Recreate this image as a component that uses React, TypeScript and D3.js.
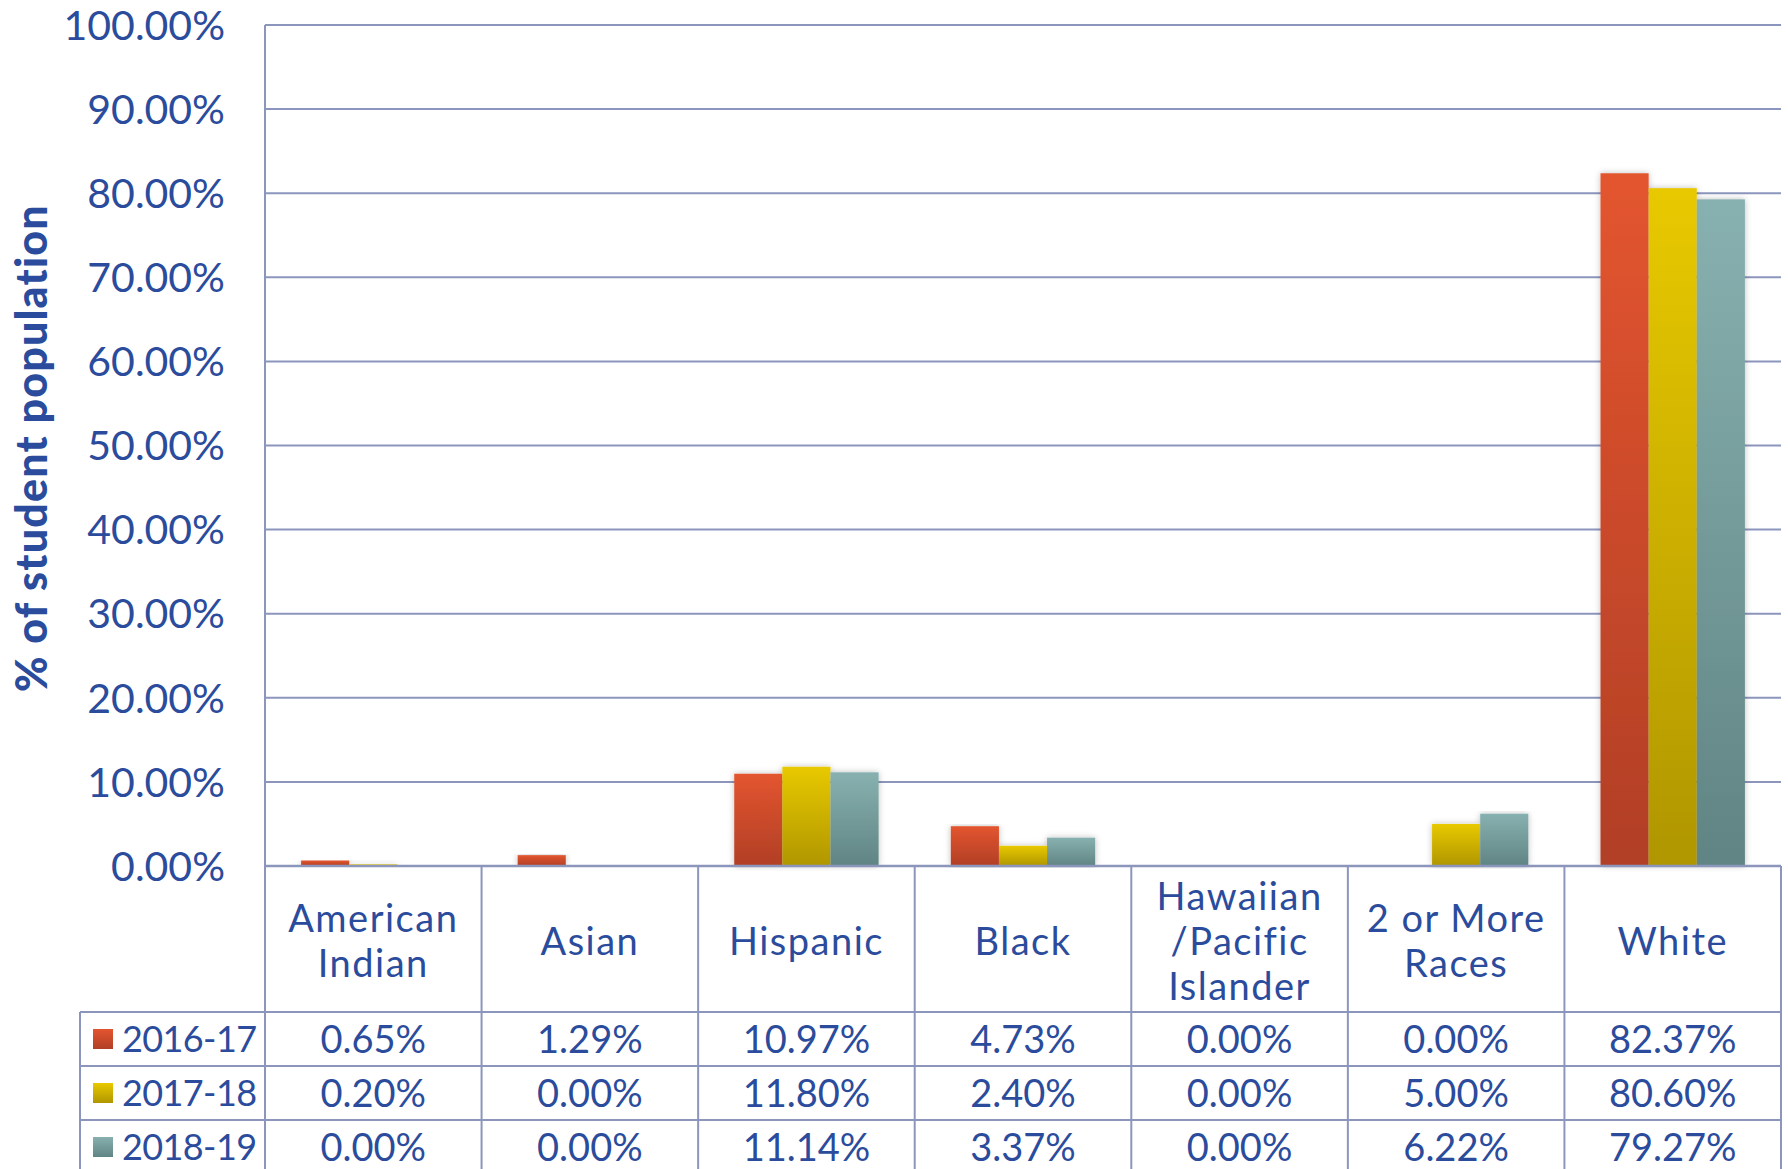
import React from 'react'
import * as d3 from 'd3'

const WIDTH = 1788
const HEIGHT = 1169
const PLOT = { left: 265, right: 1781, top: 25, bottom: 866 }
const TABLE = { left: 80, headerBottom: 1012, rowHeight: 54 }

const FONT = 'Lato, "Open Sans", sans-serif'
const TEXT = '#2b4c9c'
const LINE = '#8c96bd'

// categories and their wrapped header lines
const categories = ['American Indian', 'Asian', 'Hispanic', 'Black', 'Hawaiian /Pacific Islander', '2 or More Races', 'White']
const categoryLines = [['American', 'Indian'], ['Asian'], ['Hispanic'], ['Black'], ['Hawaiian', '/Pacific', 'Islander'], ['2 or More', 'Races'], ['White']]

const years = ['2016-17', '2017-18', '2018-19']
const values2016 = [0.65, 1.29, 10.97, 4.73, 0.0, 0.0, 82.37]
const values2017 = [0.2, 0.0, 11.8, 2.4, 0.0, 5.0, 80.6]
const values2018 = [0.0, 0.0, 11.14, 3.37, 0.0, 6.22, 79.27]
const seriesValues = [values2016, values2017, values2018]

const yTicks = [0, 10, 20, 30, 40, 50, 60, 70, 80, 90, 100]

const colors = [
  { top: '#e3552f', bottom: '#b13f26' },
  { top: '#e8c900', bottom: '#b09600' },
  { top: '#87b1b0', bottom: '#608483' },
]

export default function App() {
  const x = d3.scaleBand<string>().domain(categories).range([PLOT.left, PLOT.right]).paddingInner(0).paddingOuter(0)
  const inner = d3.scaleBand<string>().domain(years).range([0, x.bandwidth()]).paddingInner(0).paddingOuter(0.75)
  const y = d3.scaleLinear().domain([0, 100]).range([PLOT.bottom, PLOT.top])

  const rowTop = (i: number) => TABLE.headerBottom + i * TABLE.rowHeight
  const tableBottom = rowTop(years.length)
  const fmt = (v: number) => `${v.toFixed(2)}%`

  return (
    <div style={{ position: 'absolute', left: 0, top: 0 }}>
      <svg width={WIDTH} height={HEIGHT} style={{ display: 'block', background: '#fff' }}>
        <defs>
          {colors.map((c, i) => (
            <linearGradient key={i} id={`grad${i}`} x1="0" y1="0" x2="0" y2="1">
              <stop offset="0%" stopColor={c.top} />
              <stop offset="100%" stopColor={c.bottom} />
            </linearGradient>
          ))}
          <filter id="shadow" x="-10%" y="-5%" width="120%" height="110%">
            <feDropShadow dx="0" dy="0" stdDeviation="3" floodColor="#000" floodOpacity="0.25" />
          </filter>
        </defs>

        {/* gridlines */}
        {yTicks.slice(1).map((t) => (
          <line key={t} x1={PLOT.left} x2={PLOT.right} y1={y(t)} y2={y(t)} stroke={LINE} strokeWidth={2} />
        ))}

        {/* y tick labels */}
        {yTicks.map((t) => (
          <text key={t} x={225} y={y(t)} dy="0.36em" textAnchor="end" fontFamily={FONT} fontSize={41} fill={TEXT}>
            {fmt(t)}
          </text>
        ))}

        {/* bars */}
        {categories.map((cat, ci) => (
          <g key={cat} filter="url(#shadow)">
            {years.map((yr, si) => {
              const v = seriesValues[si][ci]
              if (!v) return null
              return (
                <rect
                  key={yr}
                  x={(x(cat) ?? 0) + (inner(yr) ?? 0)}
                  y={y(v)}
                  width={inner.bandwidth()}
                  height={y(0) - y(v)}
                  fill={`url(#grad${si})`}
                />
              )
            })}
          </g>
        ))}

        {/* table lines */}
        <line x1={PLOT.left} x2={PLOT.left} y1={PLOT.top} y2={tableBottom} stroke={LINE} strokeWidth={2} />
        <line x1={PLOT.left} x2={PLOT.right} y1={PLOT.bottom} y2={PLOT.bottom} stroke={LINE} strokeWidth={2.5} />
        {categories.map((cat) => (
          <line
            key={cat}
            x1={(x(cat) ?? 0) + x.bandwidth()}
            x2={(x(cat) ?? 0) + x.bandwidth()}
            y1={PLOT.bottom}
            y2={tableBottom}
            stroke={LINE}
            strokeWidth={2}
          />
        ))}
        <line x1={TABLE.left} x2={TABLE.left} y1={TABLE.headerBottom} y2={tableBottom} stroke={LINE} strokeWidth={2} />
        {years.map((yr, i) => (
          <line key={yr} x1={TABLE.left} x2={PLOT.right} y1={rowTop(i)} y2={rowTop(i)} stroke={LINE} strokeWidth={2} />
        ))}

        {/* category headers */}
        {categories.map((cat, ci) => {
          const lines = categoryLines[ci]
          const cx = (x(cat) ?? 0) + x.bandwidth() / 2
          const cy = (PLOT.bottom + TABLE.headerBottom) / 2 + 2
          const lh = 45
          return (
            <text key={cat} x={cx} textAnchor="middle" fontFamily={FONT} fontSize={38} fill={TEXT} letterSpacing={1.5}>
              {lines.map((ln, li) => (
                <tspan key={li} x={cx} y={cy + (li - (lines.length - 1) / 2) * lh} dy="0.36em">
                  {ln}
                </tspan>
              ))}
            </text>
          )
        })}

        {/* legend + values */}
        {years.map((yr, si) => {
          const cy = rowTop(si) + TABLE.rowHeight / 2
          return (
            <g key={yr}>
              <rect x={93} y={cy - 10} width={20} height={20} fill={`url(#grad${si})`} />
              <text x={122} y={cy} dy="0.36em" fontFamily={FONT} fontSize={36} letterSpacing={-0.6} fill={TEXT}>
                {yr}
              </text>
              {categories.map((cat, ci) => (
                <text
                  key={cat}
                  x={(x(cat) ?? 0) + x.bandwidth() / 2}
                  y={cy}
                  dy="0.36em"
                  textAnchor="middle"
                  fontFamily={FONT}
                  fontSize={38}
                  fill={TEXT}
                >
                  {fmt(seriesValues[si][ci])}
                </text>
              ))}
            </g>
          )
        })}

        {/* y axis title */}
        <text
          transform={`translate(32,${448}) rotate(-90)`}
          textAnchor="middle"
          dy="0.36em"
          fontFamily={FONT}
          fontWeight={900}
          fontSize={43}
          letterSpacing={1.2}
          fill={TEXT}
        >
          % of student population
        </text>
      </svg>
    </div>
  )
}
